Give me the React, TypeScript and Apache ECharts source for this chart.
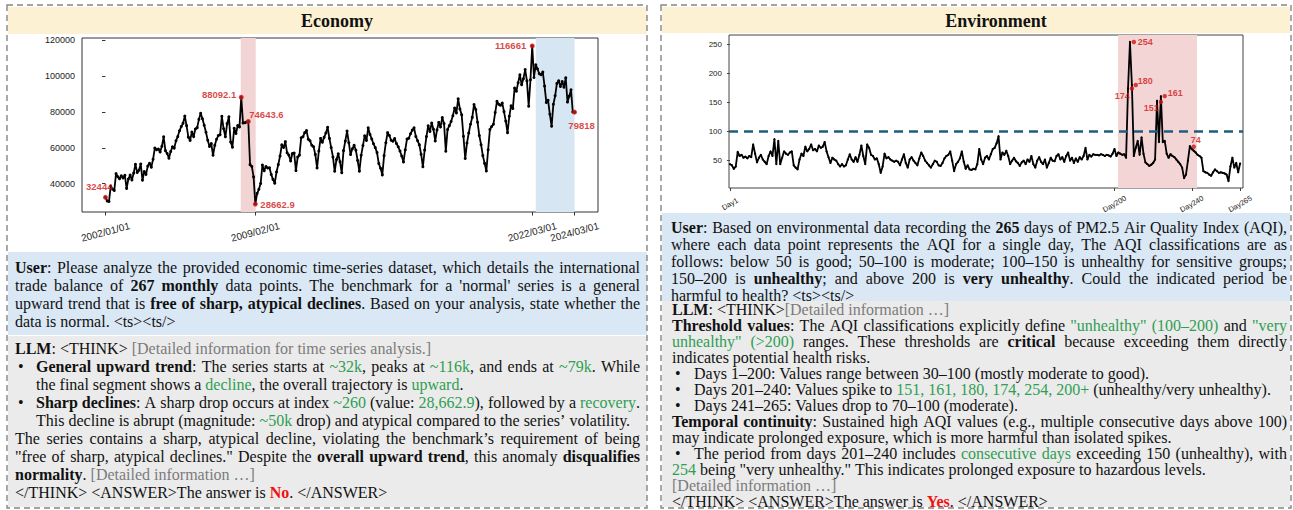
import React, { useEffect, useRef } from 'react';
import * as echarts from 'echarts';

// ---------------- Economy data ----------------
const econValues = [
  32444, 30400, 30100, 38600, 37000, 36200, 45600, 43900, 42800, 44400,
  43200, 44700, 37400, 42600, 44800, 42100, 45900, 50800, 46200, 47500,
  51000, 42000, 46800, 45200, 49800, 51400, 49200, 53600, 59800, 58900,
  59300, 57600, 60800, 66100, 58400, 56800, 54200, 57900, 60500, 59800,
  63900, 66200, 69500, 71800, 73600, 77600, 72300, 65900, 64100, 68800,
  66200, 70400, 71200, 75800, 79200, 76100, 72500, 68600, 64200, 60700,
  62300, 55800, 61400, 64700, 66800, 67200, 77500, 70600, 66100, 73400,
  77200, 63200, 60300, 70800, 67900, 72400, 71600, 88092.1, 73800, 73900,
  74300, 74643.6, 50600, 49600, 43800, 28662.9, 34600, 36900, 40100, 50400,
  47200, 49600, 48700, 48900, 45100, 42400, 40300, 46500, 50600, 55400,
  61600, 60200, 63400, 57200, 55900, 52600, 56800, 57100, 47300, 54800,
  55900, 65600, 66100, 68400, 69600, 64800, 63900, 61400, 60600, 56300,
  48800, 58200, 65200, 63100, 65800, 68200, 71400, 65200, 60100, 54900,
  46900, 53400, 56700, 52200, 46100, 58400, 63700, 69300, 62800, 56200,
  59400, 61400, 58600, 52900, 47000, 55800, 61200, 66700, 64100, 71100,
  67400, 64900, 62200, 60100, 57300, 51200, 48600, 44900, 55600, 62800,
  68400, 66800, 64200, 63600, 65100, 62400, 60600, 58200, 55400, 52100,
  58800, 64900, 65300, 67800, 69800, 71100, 66300, 63900, 61600, 56400,
  49400, 58700, 66200, 72200, 69100, 73800, 70300, 63800, 69900, 74100,
  71600, 76800, 73400, 58100, 70200, 72300, 74600, 77800, 82100, 79400,
  87200, 81600, 78300, 66400, 54000, 62600, 68200, 73100, 76900, 84100,
  81300, 74200, 66800, 61700, 55600, 51300, 47100, 58900, 70200, 71800,
  73100, 79600, 85800, 84200, 83600, 84900, 80100, 74800, 68400, 77500,
  83300, 81800, 93200, 91400, 96200, 100600, 95100, 98400, 103500, 97200,
  83100, 97800, 116661, 99100, 106200, 103800, 101200, 100600, 102100, 94300,
  85200, 86400, 78600, 72000, 84200, 88900, 95800, 97300, 94100, 96800,
  93700, 98900, 85400, 88700, 92300, 79900, 79818,
];
const econTickIdx = [0, 85, 242, 266];
const econTickLabels = ['2002/01/01', '2009/02/01', '2022/03/01', '2024/03/01'];
const econYTicks = [40000, 60000, 80000, 100000, 120000];
const econAnnIdx = [0, 77, 81, 85, 242, 266];
const econAnnVal = [32444, 88092.1, 74643.6, 28662.9, 116661, 79818];
const econAnnText = ['32444', '88092.1', '74643.6', '28662.9', '116661', '79818'];
const econRedSpan = [76.7, 85.2];
const econBlueSpan = [244, 266];

// ---------------- Environment data ----------------
const envValues = [
  44, 42, 36, 40, 65, 58, 60, 55, 57, 54,
  58, 56, 78, 62, 47, 55, 60, 52, 48, 44,
  58, 66, 58, 87, 44, 84, 44, 55, 66, 62,
  60, 64, 66, 42, 38, 35, 52, 62, 58, 74,
  66, 70, 78, 68, 70, 66, 76, 72, 74, 82,
  66, 56, 46, 55, 52, 50, 44, 40, 44, 40,
  42, 52, 61, 52, 48, 56, 48, 60, 76, 58,
  44, 78, 72, 60, 58, 52, 54, 44, 29, 40,
  62, 54, 56, 52, 50, 48, 50, 48, 42, 52,
  61, 46, 38, 52, 56, 50, 46, 42, 54, 64,
  58, 50, 46, 42, 38, 44, 50, 48, 42, 41,
  46, 54, 58, 60, 66, 50, 32, 44, 48, 54,
  66, 48, 36, 42, 35, 34, 36, 35, 44, 70,
  52, 44, 55, 58, 52, 61, 70, 72, 80, 92,
  52, 64, 60, 67, 58, 44, 50, 55, 49, 46,
  41, 47, 50, 44, 52, 48, 58, 44, 38, 50,
  56, 48, 44, 52, 38, 46, 55, 50, 49, 58,
  61, 52, 56, 48, 58, 64, 50, 55, 46, 54,
  48, 56, 52, 58, 72, 52, 60, 57, 61, 60,
  60, 59, 61, 60, 58, 60, 59, 57, 62, 70,
  58, 64, 62, 60, 61, 55, 174, 254, 180, 58,
  72, 84, 60, 90, 62, 47, 44, 41, 43, 46,
  52, 153, 82, 161, 82, 84, 62, 55, 61, 58,
  56, 52, 48, 44, 38, 20, 26, 50, 75, 70,
  67, 64, 60, 58, 55, 32, 30, 29, 26, 24,
  30, 35, 32, 29, 30, 29, 28, 26, 15, 40,
  55, 38, 46, 30, 45,
];
const envTickIdx = [0, 199, 239, 264];
const envTickLabels = ['Day1', 'Day200', 'Day240', 'Day265'];
const envYTicks = [50, 100, 150, 200, 250];
const envAnnIdx = [208, 209, 210, 223, 225, 240];
const envAnnVal = [174, 254, 180, 151, 161, 74];
const envRedSpan = [200.8, 241.7];
const envThreshold = 100;

// ---------------- Text content ----------------
const econTitle = 'Economy';
const envTitle = 'Environment';

const leftUser = [
  '{b|User}: Please analyze the provided economic time-series dataset, which details the international',
  'trade balance of {b|267 monthly} data points. The benchmark for a \'normal\' series is a general',
  'upward trend that is {b|free of sharp, atypical declines}. Based on your analysis, state whether the',
  'data is normal.  <ts><ts/>',
];
const leftUserCodes = ['J', 'J', 'J', 'N'];

const leftLLM = [
  '{b|LLM}: <THINK> {gr|[Detailed information for time series analysis.]}',
  '{b|General upward trend}: The series starts at {g|~32k}, peaks at {g|~116k}, and ends at {g|~79k}. While',
  'the final segment shows a {g|decline}, the overall trajectory is {g|upward}.',
  '{b|Sharp declines}: A sharp drop occurs at index {g|~260} (value: {g|28,662.9}), followed by a {g|recovery}.',
  'This decline is abrupt (magnitude: {g|~50k} drop) and atypical compared to the series\u2019 volatility.',
  'The series contains a sharp, atypical decline, violating the benchmark\u2019s requirement of being',
  '"free of sharp, atypical declines." Despite the {b|overall upward trend}, this anomaly {b|disqualifies}',
  '{b|normality}. {gr|[Detailed information \u2026]}',
  '</THINK> <ANSWER>The answer is {r|No}. </ANSWER>',
];
const leftLLMCodes = ['N', 'BJ', 'IN', 'BJ', 'IN', 'J', 'J', 'N', 'N'];

const rightUser = [
  '{b|User}: Based on environmental data recording the {b|265} days of PM2.5 Air Quality Index (AQI),',
  'where each data point represents the AQI for a single day, The AQI classifications are as',
  'follows: below 50 is good; 50\u2013100 is moderate; 100\u2013150 is unhealthy for sensitive groups;',
  '150\u2013200 is {b|unhealthy}; and above 200 is {b|very unhealthy}. Could the indicated period be',
  'harmful to health? <ts><ts/>',
];
const rightUserCodes = ['J', 'J', 'J', 'J', 'N'];

const rightLLM = [
  '{b|LLM}: <THINK>{gr|[Detailed information \u2026]}',
  '{b|Threshold values}: The AQI classifications explicitly define {g|"unhealthy" (100\u2013200)} and {g|"very}',
  '{g|unhealthy" (>200)} ranges. These thresholds are {b|critical} because exceeding them directly',
  'indicates potential health risks.',
  'Days 1\u2013200: Values range between 30\u2013100 (mostly moderate to good).',
  'Days 201\u2013240: Values spike to {g|151, 161, 180, 174, 254, 200+} (unhealthy/very unhealthy).',
  'Days 241\u2013265: Values drop to 70\u2013100 (moderate).',
  '{b|Temporal continuity}: Sustained high AQI values (e.g., multiple consecutive days above 100)',
  'may indicate prolonged exposure, which is more harmful than isolated spikes.',
  'The period from days 201\u2013240 includes {g|consecutive days} exceeding 150 (unhealthy), with',
  '{g|254} being "very unhealthy." This indicates prolonged exposure to hazardous levels.',
  '{gr|[Detailed information \u2026]}',
  '</THINK> <ANSWER>The answer is {r|Yes}. </ANSWER>',
];
const rightLLMCodes = ['N', 'J', 'J', 'N', 'BN', 'BN', 'BN', 'J', 'N', 'BJ', 'N', 'N', 'N'];

// ---------------- Text layout helpers ----------------
const SERIF = '"Liberation Serif", "Times New Roman", serif';
const SANS = '"Liberation Sans", Arial, sans-serif';
const STYLES: Record<string, { bold: boolean; color: string }> = {
  n: { bold: false, color: '#111111' },
  b: { bold: true, color: '#111111' },
  g: { bold: false, color: '#2f9e52' },
  gr: { bold: false, color: '#7b7b7b' },
  r: { bold: true, color: '#ee1111' },
};

let measureCtx: CanvasRenderingContext2D | null = null;
function measure(t: string, s: string, size: number): number {
  if (!measureCtx) measureCtx = document.createElement('canvas').getContext('2d');
  const ctx = measureCtx!;
  ctx.font = `${STYLES[s].bold ? 'bold ' : ''}${size}px ${SERIF}`;
  return ctx.measureText(t).width;
}

type Seg = { t: string; s: string };
function parse(line: string): Seg[] {
  const segs: Seg[] = [];
  const re = /\{(\w+)\|([^}]*)\}/g;
  let last = 0;
  let m: RegExpExecArray | null;
  while ((m = re.exec(line))) {
    if (m.index > last) segs.push({ t: line.slice(last, m.index), s: 'n' });
    segs.push({ t: m[2], s: m[1] });
    last = re.lastIndex;
  }
  if (last < line.length) segs.push({ t: line.slice(last), s: 'n' });
  return segs;
}
function toWords(segs: Seg[]): Seg[][] {
  const words: Seg[][] = [[]];
  for (const seg of segs) {
    const parts = seg.t.split(' ');
    parts.forEach((p, i) => {
      if (i > 0) words.push([]);
      if (p) words[words.length - 1].push({ t: p, s: seg.s });
    });
  }
  return words.filter((w) => w.length > 0);
}
function textEl(t: string, s: string, x: number, y: number, size: number, align = 'left') {
  const st = STYLES[s];
  return {
    type: 'text',
    x,
    y,
    z: 10,
    silent: true,
    style: {
      text: t,
      fontSize: size,
      fontFamily: SERIF,
      fontWeight: st.bold ? 'bold' : 'normal',
      fill: st.color,
      align,
      verticalAlign: 'middle',
      textAlign: align,
      textVerticalAlign: 'middle',
    },
  };
}
function layoutLine(line: string, x0: number, x1: number, y: number, justify: boolean, size: number) {
  const els: any[] = [];
  const words = toWords(parse(line));
  const widths = words.map((w) => w.reduce((a, p) => a + measure(p.t, p.s, size), 0));
  const total = widths.reduce((a, b) => a + b, 0);
  let gap = measure(' ', 'n', size);
  if (justify && words.length > 1) gap = (x1 - x0 - total) / (words.length - 1);
  let x = x0;
  words.forEach((w, i) => {
    let px = x;
    for (const p of w) {
      els.push(textEl(p.t, p.s, px, y, size));
      px += measure(p.t, p.s, size);
    }
    x += widths[i] + gap;
  });
  return els;
}
type Block = { x0: number; xb: number; xi: number; x1: number; y0: number; dy: number; size: number };
function layoutBlock(lines: string[], codes: string[], b: Block) {
  const els: any[] = [];
  lines.forEach((line, i) => {
    const c = codes[i];
    const y = b.y0 + i * b.dy;
    const justify = c.endsWith('J');
    let x0 = b.x0;
    if (c.startsWith('B')) {
      els.push(textEl('\u2022', 'n', b.xb, y, b.size));
      x0 = b.xi;
    } else if (c.startsWith('I')) {
      x0 = b.xi;
    }
    els.push(...layoutLine(line, x0, b.x1, y, justify, b.size));
  });
  return els;
}

function rect(x: number, y: number, w: number, h: number, fill: string, z = 0) {
  return { type: 'rect', silent: true, z, shape: { x, y, width: w, height: h }, style: { fill } };
}
function dashed(x: number, y: number, w: number, h: number) {
  return {
    type: 'rect',
    silent: true,
    z: 2,
    shape: { x, y, width: w, height: h },
    style: { fill: 'none', stroke: '#858585', lineWidth: 1.4, lineDash: [6, 4] },
  };
}

function buildOption() {
  const cream = '#fdf1d3';
  const blue = '#dae7f4';
  const gray = '#ebebeb';

  const graphics: any[] = [
    rect(8, 7, 639, 27, cream),
    rect(8, 252, 639, 83, blue),
    rect(8, 336, 639, 171, gray),
    rect(662, 7, 628, 26, cream),
    rect(662, 213, 628, 88, blue),
    rect(662, 301, 628, 206, gray),
    dashed(7, 5, 640, 503),
    dashed(661, 5, 630, 503),
    {
      type: 'text', x: 337, y: 21, z: 10, silent: true,
      style: { text: econTitle, fontSize: 18, fontWeight: 'bold', fontFamily: SERIF, fill: '#111', align: 'center', verticalAlign: 'middle', textAlign: 'center', textVerticalAlign: 'middle' },
    },
    {
      type: 'text', x: 996, y: 21, z: 10, silent: true,
      style: { text: envTitle, fontSize: 18, fontWeight: 'bold', fontFamily: SERIF, fill: '#111', align: 'center', verticalAlign: 'middle', textAlign: 'center', textVerticalAlign: 'middle' },
    },
    ...layoutBlock(leftUser, leftUserCodes, { x0: 15, xb: 18, xi: 36, x1: 640, y0: 267, dy: 18, size: 16 }),
    ...layoutBlock(leftLLM, leftLLMCodes, { x0: 15, xb: 18, xi: 36, x1: 640, y0: 348, dy: 18, size: 16 }),
    ...layoutBlock(rightUser, rightUserCodes, { x0: 671, xb: 675, xi: 694, x1: 1287, y0: 227, dy: 17, size: 16 }),
    ...layoutBlock(rightLLM, rightLLMCodes, { x0: 672, xb: 675, xi: 694, x1: 1287, y0: 309.5, dy: 16, size: 16 }),
  ];

  const econPlace = [
    { align: 'right', offset: [7, -11] },
    { align: 'right', offset: [-5, -3] },
    { align: 'left', offset: [1, -7] },
    { align: 'left', offset: [5, 0] },
    { align: 'right', offset: [-6, 0] },
    { align: 'center', offset: [7, 13] },
  ];
  const envPlace = [
    { align: 'right', offset: [-2, 7] },
    { align: 'left', offset: [4, 0] },
    { align: 'left', offset: [2, -4] },
    { align: 'right', offset: [-2, 6] },
    { align: 'left', offset: [3, -3] },
    { align: 'center', offset: [2, -7] },
  ];
  const annColor = '#d01515';

  const axisLabelBase = { fontFamily: SANS, color: '#222' };

  return {
    animation: false,
    backgroundColor: '#ffffff',
    graphic: { elements: graphics },
    grid: [
      { left: 82, top: 38, width: 516, height: 174, show: true, borderColor: '#333', borderWidth: 1, backgroundColor: 'transparent' },
      { left: 729, top: 35, width: 514, height: 153, show: true, borderColor: '#444', borderWidth: 1, backgroundColor: 'transparent' },
    ],
    xAxis: [
      {
        gridIndex: 0, type: 'value', min: -13.3, max: 279.3,
        splitLine: { show: false }, axisLine: { show: false },
        axisTick: { show: true, length: 3.5, lineStyle: { color: '#333' }, customValues: econTickIdx },
        axisLabel: {
          ...axisLabelBase, fontSize: 10, customValues: econTickIdx, rotate: 15, align: 'center', verticalAlign: 'middle', margin: 20,
          formatter: (v: number) => { const k = econTickIdx.indexOf(v); return k >= 0 ? econTickLabels[k] : ''; },
        },
      },
      {
        gridIndex: 1, type: 'value', min: -0.5, max: 265.5,
        splitLine: { show: false }, axisLine: { show: false },
        axisTick: { show: true, length: 3, lineStyle: { color: '#444' }, customValues: envTickIdx },
        axisLabel: {
          ...axisLabelBase, fontSize: 7.5, customValues: envTickIdx, rotate: 30, align: 'center', verticalAlign: 'middle', margin: 16,
          formatter: (v: number) => { const k = envTickIdx.indexOf(v); return k >= 0 ? envTickLabels[k] : ''; },
        },
      },
    ],
    yAxis: [
      {
        gridIndex: 0, type: 'value', min: 24262, max: 121061,
        splitLine: { show: false }, axisLine: { show: false },
        axisTick: { show: true, length: 3.5, lineStyle: { color: '#333' }, customValues: econYTicks },
        axisLabel: { ...axisLabelBase, fontSize: 9, customValues: econYTicks, margin: 7, formatter: (v: number) => String(v) },
      },
      {
        gridIndex: 1, type: 'value', min: 3, max: 266,
        splitLine: { show: false }, axisLine: { show: false },
        axisTick: { show: true, length: 3, lineStyle: { color: '#444' }, customValues: envYTicks },
        axisLabel: { ...axisLabelBase, fontSize: 8, customValues: envYTicks, margin: 7, formatter: (v: number) => String(v) },
      },
    ],
    series: [
      {
        type: 'line', xAxisIndex: 0, yAxisIndex: 0, z: 3, silent: true,
        data: econValues.map((v, i) => [i, v]),
        symbol: 'circle', symbolSize: 3, showSymbol: true, showAllSymbol: true,
        lineStyle: { color: '#000', width: 1.8 }, itemStyle: { color: '#000' },
        markArea: {
          silent: true,
          data: [
            [{ xAxis: econRedSpan[0], itemStyle: { color: '#f3d4d4' } }, { xAxis: econRedSpan[1] }],
            [{ xAxis: econBlueSpan[0], itemStyle: { color: '#d7e6f3' } }, { xAxis: econBlueSpan[1] }],
          ],
        },
      },
      {
        type: 'scatter', xAxisIndex: 0, yAxisIndex: 0, z: 5, silent: true,
        symbolSize: 5, itemStyle: { color: annColor },
        label: { show: true, color: annColor, fontWeight: 'bold', fontSize: 9.5, fontFamily: SANS },
        data: econAnnIdx.map((x, i) => ({
          value: [x, econAnnVal[i]],
          label: { show: true, formatter: econAnnText[i], position: 'inside', align: econPlace[i].align, verticalAlign: 'middle', offset: econPlace[i].offset, color: annColor },
        })),
      },
      {
        type: 'line', xAxisIndex: 1, yAxisIndex: 1, z: 3, silent: true,
        data: envValues.map((v, i) => [i, v]),
        symbol: 'circle', symbolSize: 2.2, showSymbol: true, showAllSymbol: true,
        lineStyle: { color: '#000', width: 1.8 }, itemStyle: { color: '#000' },
        markArea: {
          silent: true,
          data: [[{ xAxis: envRedSpan[0], itemStyle: { color: '#f3d5d5' } }, { xAxis: envRedSpan[1] }]],
        },
        markLine: {
          silent: true, symbol: 'none', label: { show: false },
          lineStyle: { color: '#1f5d7d', width: 2.6, type: [9, 6] },
          data: [{ yAxis: envThreshold }],
        },
      },
      {
        type: 'scatter', xAxisIndex: 1, yAxisIndex: 1, z: 5, silent: true,
        symbolSize: 4.5, itemStyle: { color: annColor },
        label: { show: true, color: annColor, fontWeight: 'bold', fontSize: 9, fontFamily: SANS },
        data: envAnnIdx.map((x, i) => ({
          value: [x, envAnnVal[i]],
          label: { show: true, formatter: String(envAnnVal[i]), position: 'inside', align: envPlace[i].align, verticalAlign: 'middle', offset: envPlace[i].offset, color: annColor },
        })),
      },
    ],
  };
}

export default function App() {
  const ref = useRef<HTMLDivElement>(null);
  useEffect(() => {
    if (!ref.current) return;
    const chart = echarts.init(ref.current, undefined, { renderer: 'svg' });
    chart.setOption(buildOption() as any);
    return () => chart.dispose();
  }, []);
  return (
    <div
      ref={ref}
      style={{ position: 'fixed', left: 0, top: 0, width: 1293, height: 510, background: '#fff' }}
    />
  );
}
